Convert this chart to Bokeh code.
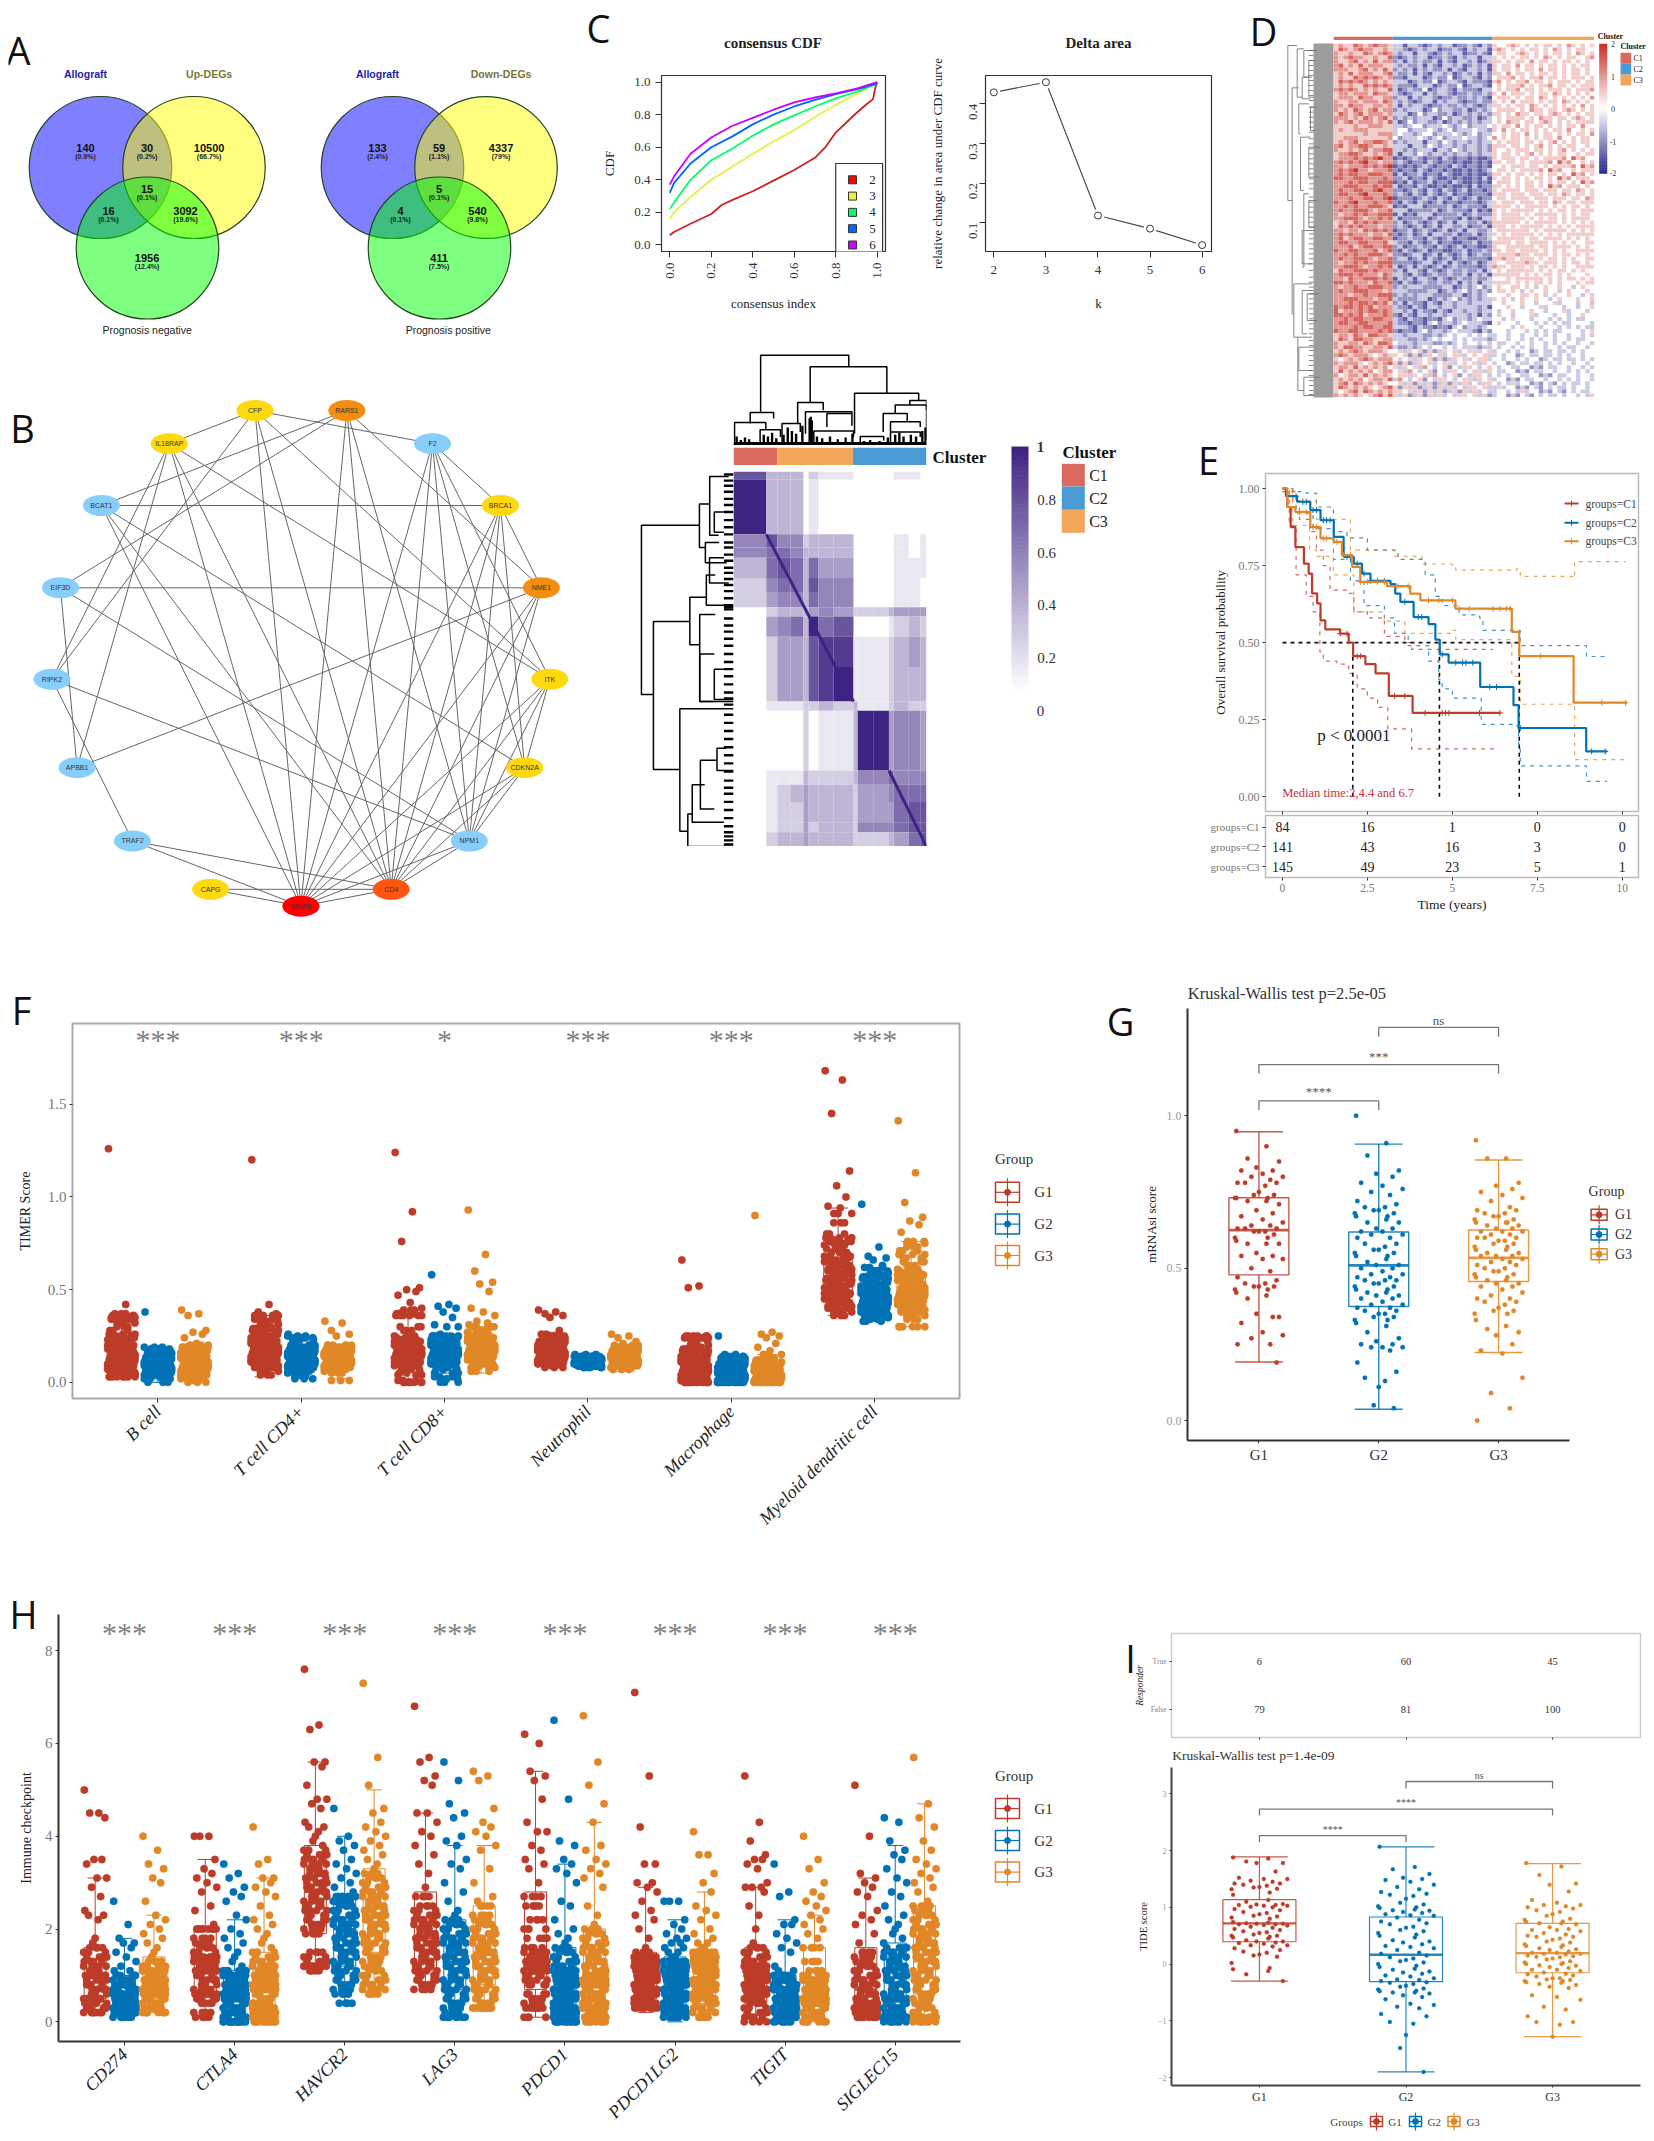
import math
from bokeh.plotting import figure
from bokeh.layouts import column
from bokeh.models import Range1d, FixedTicker
from bokeh.core.properties import value
from bokeh.embed import file_html
from bokeh.resources import INLINE

SERIF = "Liberation Serif"
SANS = "Liberation Sans"
RED, BLUE, ORANGE = "#BC3C29", "#0072B5", "#E18727"
GCOL = [RED, BLUE, ORANGE]
GROUPS = ["G1", "G2", "G3"]
CL1, CL2, CL3 = "#DB6A5E", "#4A9BD4", "#F2A65A"

# ---------- A: Venn
VENN_LEFT_TITLES = ["Allograft", "Up-DEGs", "Prognosis negative"]
VENN_LEFT_COUNTS = ["140", "30", "10500", "15", "16", "3092", "1956"]
VENN_LEFT_PCT = ["(0.9%)", "(0.2%)", "(66.7%)", "(0.1%)", "(0.1%)", "(19.6%)", "(12.4%)"]
VENN_RIGHT_TITLES = ["Allograft", "Down-DEGs", "Prognosis positive"]
VENN_RIGHT_COUNTS = ["133", "59", "4337", "5", "4", "540", "411"]
VENN_RIGHT_PCT = ["(2.4%)", "(1.1%)", "(79%)", "(0.1%)", "(0.1%)", "(9.8%)", "(7.5%)"]

# ---------- B: network
NODES = ["MMP9", "CD4", "NPM1", "CDKN2A", "ITK", "NME1", "BRCA1", "F2", "RARS1", "CFP", "IL18RAP", "BCAT1", "EIF3D", "RIPK2", "APBB1", "TRAF2", "CAPG"]
NODE_COL = ["#FF0000", "#FF5510", "#87CEFA", "#FFD910", "#FFD910", "#F58E10", "#FFD910", "#87CEFA", "#F58E10", "#FFD910", "#FFD910", "#87CEFA", "#87CEFA", "#87CEFA", "#87CEFA", "#87CEFA", "#FFD910"]
EDGES = [("CFP","IL18RAP"),("CFP","F2"),("CFP","ITK"),("CFP","MMP9"),("CFP","CD4"),("CFP","RIPK2"),
 ("RARS1","BCAT1"),("RARS1","EIF3D"),("RARS1","NME1"),("RARS1","MMP9"),("RARS1","CD4"),("RARS1","NPM1"),
 ("IL18RAP","RIPK2"),("IL18RAP","APBB1"),("IL18RAP","MMP9"),("IL18RAP","CD4"),("IL18RAP","ITK"),
 ("F2","BRCA1"),("F2","MMP9"),("F2","CD4"),("F2","NPM1"),("F2","CDKN2A"),("F2","ITK"),
 ("BCAT1","BRCA1"),("BCAT1","CDKN2A"),("BCAT1","MMP9"),("BCAT1","CD4"),
 ("BRCA1","NME1"),("BRCA1","MMP9"),("BRCA1","CD4"),("BRCA1","NPM1"),("BRCA1","CDKN2A"),
 ("EIF3D","NME1"),("EIF3D","APBB1"),("EIF3D","NPM1"),
 ("NME1","APBB1"),("NME1","MMP9"),("NME1","CD4"),("NME1","NPM1"),
 ("RIPK2","TRAF2"),("RIPK2","NPM1"),
 ("ITK","MMP9"),("ITK","CD4"),("ITK","NPM1"),("ITK","CDKN2A"),
 ("CDKN2A","MMP9"),("CDKN2A","CD4"),("CDKN2A","NPM1"),
 ("TRAF2","MMP9"),("TRAF2","CD4"),("NPM1","MMP9"),("NPM1","CD4"),
 ("CAPG","CD4"),("CAPG","MMP9"),("CD4","MMP9")]

# ---------- consensus matrix (sample index edges, darkness 0-9)
CM_COL_EDGES = [0,63,84,109,134,144,163,192,230,238,269,298,307,336,358,370]
CM_ROW_EDGES = [0,8,62,75,85,105,119,134,143,163,193,227,236,265,295,309,326,346,356,370]
CM_ROWS = ["733302110000110","933301000000000","575523330000101","566533330000101","367636440000111",
 "256637550000110","245536550000110","023334542223444","045639670001232","024437881112343",
 "024437891112333","011122323112322","000020113994554","000020113994554","011132223556555",
 "012343332445666","012243332444677","012242332555677","023343332223467"]
CM_DIAG_A = [(63,62),(230,227)]
CM_DIAG_B = [(298,295),(370,370)]
CLUSTER_SIZES = [84,141,145]
CM_TOP = [(52,221,1,.375,.873),(147,294,.873,.476,.58),(232,355,.58,.13,.5),(310,370,.45,.35,.06),(338,370,.5,.45,.39),
 (287,333,.356,.15,.262),(301,358,.262,.15,.206),(32,77,.365,.243,.3),(2,62,.255,0,.176),(51,90,.176,.02,.094),
 (123,172,.476,.243,.39),(138,227,.375,.13,.356),(179,227,.356,.206,.22),(93,128,.243,.02,.15),(154,230,.16,0,.094),
 (243,288,.1,0,.056),(301,358,.15,0,.094)]
CM_TOP_STUBS = [(6,.1),(14,.06),(22,.09),(30,.07),(58,.12),(66,.1),(74,.14),(82,.08),(96,.12),(104,.2),(112,.16),(120,.13),(132,.22),(146,.3),(148,.32),(150,.28),(160,.1),(170,.08),(185,.1),(200,.07),(215,.09),(228,.13),(250,.05),(262,.06),(280,.05),(296,.09),(310,.12),(318,.14),(326,.1),(340,.12),(350,.1),(362,.16),(368,.2)]
CM_LEFT = [(53,220,.959,.355,.834),(148,294,.834,.455,.559),(32,75,.355,.248,.293),(5,63,.248,.05,.155),(124,171,.455,.283,.352),
 (102,132,.283,.19,.07),(141,227,.352,.19,.207),(180,227,.352,.2,0),(234,355,.559,0,.476),(338,370,.476,.43,0),
 (285,333,.345,.172,.2),(309,346,.43,.3,.1),(273,295,.172,.08,0),(40,60,.2,.06,.1),(85,110,.25,.1,.05),(70,90,.293,.15,.07),(195,225,.2,.1,0)]
CM_LEFT_STUBS = [3,9,14,20,27,33,40,48,55,62,70,75,82,88,95,100,106,112,118,125,132,134,136,145,152,158,165,172,180,188,195,202,210,218,224,230,240,248,256,264,272,280,288,296,305,312,318,326,334,342,350,356,360,364,368]

# ---------- C: consensus CDF and delta area
CDF_LEVELS = ["2", "3", "4", "5", "6"]
CDF_COLORS = ["#FF0000", "#E8F03C", "#00FF66", "#0066FF", "#CC00FF"]
CDF2_X = [0,.02,.1,.2,.25,.3,.4,.5,.6,.7,.75,.8,.85,.9,.95,.98,.99,1]
CDF2_Y = [.06,.08,.13,.19,.245,.275,.33,.395,.46,.535,.6,.69,.75,.81,.865,.895,.96,1]
CDFN_X = [0,.02,.1,.2,.3,.4,.5,.6,.7,.8,.9,1]
CDF3_Y = [.16,.2,.295,.4,.48,.56,.635,.705,.785,.86,.925,1]
CDF4_Y = [.22,.26,.4,.52,.59,.67,.74,.795,.85,.9,.94,.99]
CDF5_Y = [.32,.38,.5,.6,.665,.74,.8,.85,.89,.925,.955,.99]
CDF6_Y = [.37,.42,.56,.66,.73,.78,.83,.875,.905,.93,.96,1]
DELTA_K = [2,3,4,5,6]
DELTA_Y = [.429,.4547,.118,.085,.0435]

# ---------- D: expression heatmap (0=-2, 4=0, 8=+2)
D_ROWS = [
"565576567665"+"33133212323312232132"+"5445654545455454654545",
"655675657566"+"23132322313213323123"+"5545455464554545545454",
"565576767656"+"22133312322412332132"+"4555645455645545455545",
"566566657665"+"32123313233212232232"+"5464555454554654545454",
"656576567566"+"23233312423322312323"+"4555545465545545654545",
"555565566655"+"33234423334323423334"+"5455464545545454554644",
"565675667765"+"23233313324323323233"+"4545554554545645454554",
"566676767866"+"12123212213212212112"+"5455545545455556475644",
"676776677766"+"13122312213211212112"+"5545455454545545475645",
"676677667866"+"22123213213212312212"+"5455554555455545546545",
"667676677765"+"12133312222312322213"+"5555454555554545455454",
"566576767666"+"23123212312313322312"+"5555554545555545454545",
"675677667766"+"12232213212312211223"+"4555555455455554545454",
"667676677765"+"22123312313212312322"+"4555565545554545545454",
"576677767666"+"23133213212322322313"+"4545555554545455454544",
"656676677766"+"23233322223312323423"+"4544554543454454434544",
"666767767675"+"23132213213323323333"+"4454445443444534443443",
"667677667766"+"32132212213423323433"+"4434544434443434343344",
"566576577665"+"33233322323434434343"+"3443443443434344344343",
"565676566654"+"45354525235453455345"+"3443434423433433434344",
"566575656564"+"53545364345243554345"+"4344334423243344344343",
"567576565654"+"45352535235253534355"+"4343534423243243433434"]
D_ROW_GRAIN = [0, 3, -2, 5]
D_TREE = [(142,135,600,170,155),(155,262,940,175,160),(170,145,290,190,185),(160,850,1010,215,172),(185,230,295,215,210),
 (190,150,230,230,205),(175,310,400,205,180),(180,410,570,210,190),(190,580,800,205,185),(185,690,790,225,215),
 (205,440,530,240,235),(172,1010,1170,215,190),(185,870,1000,220,200),(190,1130,1185,240,220),(205,180,290,225,220),
 (210,320,390,230,225),(205,600,680,230,225),(200,880,960,235,230),(175,1040,1110,220,215)]
D_TWIGS = [150,165,180,195,210,225,240,255,270,285,300,320,335,350,365,380,395,415,430,445,460,475,490,505,520,535,550,565,590,605,620,635,650,665,680,700,715,730,745,760,775,790,810,830,845,860,880,895,910,925,940,955,970,985,1000,1020,1035,1050,1065,1080,1095,1110,1125,1140,1155,1170,1182]

# ---------- E: survival
KM1_T = [0,.14,.24,.38,.63,.77,.87,1.02,1.12,1.26,1.7,1.95,2.08,2.44,2.74,3.13,3.83,6.41]
KM1_S = [1,.94,.875,.81,.756,.724,.66,.627,.572,.543,.529,.5,.456,.43,.40,.327,.272,.272]
KM2_T = [0,.1,.43,.82,1.12,1.51,1.8,2.1,2.34,2.59,3.18,3.32,3.47,3.86,4.3,4.5,4.63,4.89,5.82,6.8,6.95,8.94,9.55]
KM2_S = [1,.975,.957,.93,.897,.843,.778,.756,.724,.70,.69,.659,.632,.583,.56,.51,.462,.435,.356,.297,.223,.147,.147]
KM3_T = [0,.14,.38,.82,1.12,1.51,1.75,2.05,2.29,3.08,3.76,4.06,5.09,6.75,6.97,8.57,10.14]
KM3_S = [1,.94,.924,.875,.838,.827,.784,.746,.697,.683,.659,.637,.61,.535,.456,.305,.305]
KM1_UP = [(0,1),(.3,.96),(.5,.9),(.8,.86),(1,.8),(1.2,.75),(1.4,.67),(1.9,.66),(2.1,.6),(2.5,.58),(3,.52),(3.6,.5),(3.8,.478),(6.2,.478)]
KM1_LO = [(0,1),(.2,.88),(.4,.72),(.7,.65),(.9,.6),(1.1,.47),(1.2,.44),(1.6,.43),(1.95,.4),(2.2,.35),(2.5,.32),(2.8,.29),(3.1,.22),(3.8,.155),(6.3,.155)]
KM2_UP = [(0,1),(.3,.99),(.7,.985),(1,.94),(1.5,.86),(1.9,.84),(2.5,.8),(3.1,.8),(3.4,.77),(4.2,.72),(4.5,.65),(4.7,.62),(5.2,.59),(5.8,.58),(5.9,.54),(6.8,.54),(7,.49),(8.9,.49),(8.95,.455),(9.55,.455)]
KM2_LO = [(0,.99),(.4,.92),(.9,.87),(1.5,.77),(2,.7),(2.4,.62),(3,.58),(3.3,.53),(3.7,.49),(4.3,.44),(4.6,.38),(4.7,.35),(5,.32),(5.8,.32),(5.85,.235),(6.8,.23),(6.95,.17),(7,.1),(8.9,.1),(8.95,.05),(9.55,.05)]
KM3_UP = [(0,1),(.3,.96),(1,.9),(2,.8),(3.3,.78),(4.1,.755),(5.0,.75),(5.1,.735),(6.9,.74),(7,.715),(8.55,.71),(8.6,.763),(10.1,.763)]
KM3_LO = [(0,.99),(.3,.88),(.8,.8),(1,.78),(1.5,.72),(2.1,.6),(3,.57),(3.6,.53),(5,.54),(5.1,.51),(6.7,.5),(6.75,.39),(7,.3),(8.55,.3),(8.6,.12),(10.1,.12)]
KM1_CENS = [1.7,1.9,2.2,2.3,3.3,3.6,4.2,4.7,4.8,4.9,5.8,6.4]
KM2_CENS = [.4,.6,.7,.9,1,1.2,1.3,1.4,1.9,2,2.2,2.4,2.6,2.8,3,3.6,4,4.1,4.7,5.1,5.3,5.4,5.6,6.1,6.3,7,9.1,9.5]
KM3_CENS = [.5,.7,.9,1,1.2,1.3,1.6,1.8,2,2.3,2.5,2.8,3,3.4,3.7,4.3,4.6,5,5.2,5.5,6.2,6.4,6.6,6.7,7.6,9.4,10.1]
RISK_TICKS = [0,2.5,5,7.5,10]
RISK_C1 = [84,16,1,0,0]
RISK_C2 = [141,43,16,3,0]
RISK_C3 = [145,49,23,5,1]

# ---------- F: TIMER (hundredths)
F_CATS = ["B cell","T cell CD4+","T cell CD8+","Neutrophil","Macrophage","Myeloid dendritic cell"]
F_STARS = ["***","***","*","***","***","***"]
F_B_G1 = [126,42,37,36,36,35,34,33,32,30,28,26,25,24,24,23,22,21,20,20,19,18,18,17,16,15,15,14,14,13,13,12,12,11,11,10,10,9,9,8,8,7,7,6,6,5,5,4,4,3,3,3]
F_B_G2 = [38,19,18,18,17,16,16,15,15,14,14,13,13,12,12,11,11,10,10,10,9,9,9,8,8,8,7,7,7,6,6,6,5,5,5,4,4,3,2,0]
F_B_G3 = [39,37,36,28,27,26,24,21,20,20,19,19,18,17,17,16,16,15,14,14,13,13,12,12,11,11,10,10,9,9,8,8,7,7,6,6,5,5,4,4,3,2,1,0]
F_4_G1 = [120,42,38,37,36,36,34,33,31,30,29,28,27,26,25,24,24,23,22,22,21,21,20,20,19,19,18,18,17,17,16,16,15,15,14,14,13,13,12,12,11,11,10,10,9,9,8,7,6,4]
F_4_G2 = [26,25,24,24,23,20,20,19,19,18,18,17,17,16,16,16,15,15,15,14,14,14,13,13,13,12,12,12,11,11,11,10,10,10,9,9,9,8,8,7,6,5,4,2]
F_4_G3 = [33,32,28,26,25,20,20,19,19,18,18,17,17,16,16,16,15,15,15,14,14,14,13,13,13,12,12,12,11,11,11,10,10,10,9,9,9,8,8,8,7,6,5,1]
F_8_G1 = [124,92,76,51,50,49,47,43,40,39,37,36,36,30,28,25,24,23,22,21,20,20,19,19,18,18,17,17,16,16,15,15,14,14,13,13,12,12,11,11,10,9,8,7,5,4,1,0,0,0]
F_8_G2 = [58,42,41,40,38,35,31,30,30,26,25,25,24,24,23,23,22,22,21,21,20,20,19,19,18,18,17,17,16,16,15,15,14,14,13,13,12,12,11,11,10,10,9,8,7,5,3,2,0]
F_8_G3 = [93,69,60,54,53,49,40,38,36,33,32,31,30,30,28,27,26,25,24,23,23,22,22,21,21,20,20,19,19,18,18,17,17,16,16,15,15,14,14,13,13,12,11,10,9,8,6]
F_N_G1 = [39,38,37,36,35,28,26,25,24,23,22,22,21,21,20,20,19,19,18,18,17,17,17,16,16,16,15,15,15,14,14,14,13,13,13,12,12,12,11,11,10,10,9,8]
F_N_G2 = [15,14,14,14,13,13,13,13,12,12,12,12,12,11,11,11,11,11,10,10,10,10,10,9,9,9,9,8,8]
F_N_G3 = [26,25,24,22,21,20,19,19,18,18,17,17,16,16,16,15,15,15,14,14,14,13,13,13,12,12,12,11,11,11,10,10,10,9,9,8,7]
F_M_G1 = [66,52,51,25,25,24,24,22,20,19,18,17,16,15,14,14,13,13,12,12,11,11,10,10,9,9,8,8,7,7,6,6,5,5,4,4,3,3,2,2,1,1,1,0,0,0,0,0]
F_M_G2 = [25,15,15,14,14,13,13,12,12,11,10,10,9,9,8,8,7,7,6,6,5,5,5,4,4,4,3,3,3,2,2,2,1,1,1,1,0,0,0,0,0,0]
F_M_G3 = [90,27,26,25,24,21,19,17,15,13,12,11,10,10,9,9,8,8,7,7,6,6,5,5,5,4,4,4,3,3,3,2,2,2,1,1,1,1,0,0,0,0,0,0,0]
F_D_G1 = [168,163,145,114,106,100,95,94,91,86,80,78,77,76,75,74,72,70,68,67,66,65,64,63,62,61,60,59,58,57,56,55,54,53,52,51,50,49,48,47,46,45,44,43,42,41,40,39,38,36]
F_D_G2 = [96,73,68,67,66,63,62,60,59,58,57,56,55,54,53,52,51,50,50,49,49,48,48,47,47,46,46,45,45,44,44,43,43,42,42,41,41,40,40,39,39,38,38,37,37,36,36,35,35,34,33]
F_D_G3 = [141,113,97,89,87,85,81,76,75,73,71,69,67,65,63,61,60,59,58,57,56,55,54,53,52,51,50,49,49,48,48,47,47,46,46,45,45,44,44,43,43,42,42,41,40,39,38,37,36,34,30,30]
F_BOX_G1 = [(.07,.13,.2,.02,.37),(.12,.18,.24,.03,.36),(.09,.16,.22,0,.39),(.13,.16,.19,.08,.27),(.03,.08,.13,0,.25),(.46,.55,.67,.36,.94)]
F_BOX_G2 = [(.05,.09,.13,0,.19),(.09,.13,.16,.02,.25),(.1,.16,.21,.05,.25),(.09,.11,.12,.07,.15),(.01,.05,.08,0,.14),(.39,.46,.52,.33,.62)]
F_BOX_G3 = [(.05,.1,.15,0,.2),(.09,.13,.16,.02,.2),(.12,.17,.23,.05,.3),(.1,.13,.15,.06,.2),(.01,.04,.08,0,.15),(.41,.49,.57,.3,.76)]

# ---------- H: checkpoints (tenths)
H_CATS = ["CD274","CTLA4","HAVCR2","LAG3","PDCD1","PDCD1LG2","TIGIT","SIGLEC15"]
H_1_G1 = [50,45,45,44,35,35,34,31,31,29,27,24,23,23,22,18,17,16,15,14,13,12,11,10,10,9,8,7,6,5,5,4,3,3,2,2]
H_1_G2 = [26,21,18,17,17,16,15,14,13,12,11,11,10,10,9,9,8,8,7,7,6,6,5,5,5,4,4,4,3,3,3,2,2,2,1,1]
H_1_G3 = [40,37,34,33,31,30,26,23,22,21,20,19,18,17,16,15,14,13,12,12,11,11,10,10,9,9,8,8,7,7,6,6,5,5,4,4,3,3,2,2]
H_2_G1 = [40,40,40,35,33,32,31,30,29,28,25,24,21,20,20,18,17,16,15,14,14,13,12,12,11,11,10,9,8,7,6,6,5,5,4,2,1]
H_2_G2 = [34,32,31,29,28,27,26,23,22,20,19,18,17,16,15,14,13,12,11,11,10,10,9,9,8,8,7,7,6,6,5,5,4,4,3,3,2,2,1,1,0,0,0,0]
H_2_G3 = [42,35,34,31,31,30,29,28,27,25,23,22,21,20,19,18,17,16,15,14,13,12,11,11,10,10,9,9,8,8,7,7,6,6,5,4,4,3,3,2,2,1,1,0,0,0]
H_3_G1 = [76,64,63,56,56,55,51,48,48,47,46,43,42,42,41,40,39,38,37,36,35,34,33,32,31,30,29,28,27,26,25,24,23,22,21,20,19,15,14,13,12,12,11]
H_3_G2 = [46,40,39,38,37,35,34,33,32,31,30,29,28,27,27,26,26,25,24,23,22,21,20,19,18,17,16,15,14,13,12,11,10,9,8,7,6,4]
H_3_G3 = [73,57,51,46,45,43,42,41,40,39,38,37,36,35,34,33,32,31,30,29,28,27,26,25,24,23,22,21,20,19,18,17,16,15,14,13,12,11,10,9,8,7,6]
H_4_G1 = [68,57,56,53,52,51,45,45,43,41,40,38,36,34,32,29,27,25,24,23,22,21,20,19,18,17,16,15,14,13,12,11,10,9,8,7]
H_4_G2 = [56,52,47,45,44,40,39,38,35,34,33,30,28,26,24,23,22,21,20,19,18,17,16,15,14,13,12,11,10,9,8,7,6,5,4,3,2,1,1]
H_4_G3 = [54,53,52,46,43,42,41,40,38,37,33,30,27,26,25,23,22,21,20,19,18,17,16,15,14,13,12,11,10,9,8,7,6,5,4,3,3,3]
H_5_G1 = [62,60,54,53,52,48,43,41,41,38,37,35,34,33,30,27,25,22,20,18,16,15,14,14,13,13,12,12,11,11,10,9,8,6,5,4,3,3,1]
H_5_G2 = [65,48,39,38,35,34,33,32,30,26,25,22,20,19,18,17,16,15,14,13,12,11,11,10,10,9,9,8,8,7,7,6,6,5,5,4,4,3,3,2,2,1,1,0,0,0]
H_5_G3 = [66,56,51,47,43,38,37,35,34,33,32,31,29,25,23,21,20,19,18,17,16,15,14,13,12,11,10,10,9,9,8,8,7,7,6,6,5,5,4,4,3,3,2,2,1,1,0,0]
H_6_G1 = [71,53,42,34,34,30,30,29,28,26,24,23,22,20,18,16,15,14,14,13,13,12,12,11,11,10,10,9,9,8,8,7,7,6,6,5,5,4,4,3,3]
H_6_G2 = [26,26,26,22,21,20,19,18,18,17,17,16,16,15,15,14,14,13,13,12,12,11,11,10,10,9,9,8,8,7,7,6,6,5,5,4,4,3,3,2,2,1,1]
H_6_G3 = [41,36,36,32,30,28,25,24,23,22,20,19,18,17,17,16,16,15,15,14,14,13,13,12,12,11,11,10,10,9,9,8,8,7,7,6,6,5,5,4,3,2,1]
H_7_G1 = [53,43,39,36,35,35,34,33,30,29,29,29,28,25,23,20,17,16,15,14,13,12,12,11,11,10,10,9,9,8,8,7,7,6,6,5,5,4,3,2,1,0]
H_7_G2 = [34,28,27,22,21,21,19,18,17,16,15,12,11,11,10,10,9,9,8,8,7,7,6,6,5,5,4,4,3,3,2,2,1,1,1,0,0]
H_7_G3 = [40,35,33,30,28,27,26,25,24,23,22,21,20,19,18,16,13,11,10,10,9,9,8,8,7,7,6,6,5,5,4,4,3,3,2,2,1,1,0,0]
H_8_G1 = [51,40,32,31,30,29,28,27,24,23,22,21,19,17,15,14,13,12,11,10,9,8,7,6,5,4,4,3,3,3,2,2,2,1,1]
H_8_G2 = [44,43,39,37,36,35,33,31,30,28,27,25,23,22,21,20,19,18,17,16,15,14,13,12,11,10,9,8,7,6,5,5,4,4,3,3,2,2,1,1,1,0,0]
H_8_G3 = [57,47,44,42,39,37,35,34,33,32,31,30,29,28,26,25,24,23,22,21,20,19,18,17,16,15,14,13,12,11,10,9,8,7,6,5,4,3,2,1,1,0,0]
H_BOX_G1 = [(.5,1,1.6,.2,3.1),(.6,1.3,2,.1,3.5),(1.9,2.8,3.8,1.1,5.6),(1.1,1.8,2.8,.7,4.5),(.7,1.2,2.8,.1,5.4),(.5,.9,1.5,.2,2.9),(.4,.9,1.6,0,2.9),(.3,.7,1.6,.1,3.1)]
H_BOX_G2 = [(.3,.6,1,.1,1.8),(.2,.6,1.1,0,2.2),(1.2,2,2.7,.4,4),(.7,1.3,2.2,.1,3.8),(.3,.8,1.6,0,3.4),(.3,.8,1.4,0,2.2),(.2,.5,1,0,2.2),(.5,1.1,1.7,0,3.8)]
H_BOX_G3 = [(.5,.9,1.4,.2,2.3),(.3,.8,1.5,0,3.1),(1.5,2.3,3.3,.6,5),(.8,1.5,2.5,.3,3.8),(.4,1,2,0,4.3),(.4,.9,1.5,.1,2.8),(.4,.9,1.6,0,2.3),(.6,1.3,2.5,0,4.7)]

# ---------- G: mRNAsi (hundredths)
G_G1 = [95,90,86,85,83,82,82,81,80,80,79,78,78,78,77,75,74,74,73,73,73,72,72,71,69,68,67,66,65,64,64,63,63,63,62,62,62,61,60,60,59,58,58,58,55,54,54,53,53,50,49,47,46,45,45,44,44,44,43,43,42,41,40,34,35,34,32,29,28,27,25,25,19]
G_G2 = [100,91,87,82,81,80,78,77,76,75,74,72,71,70,70,69,69,68,68,67,67,66,65,65,63,63,62,62,61,61,60,60,58,58,57,56,56,55,55,54,54,53,52,51,51,50,50,49,48,48,47,47,46,46,46,45,45,44,44,43,43,42,42,41,41,40,40,39,38,38,37,37,36,36,35,35,34,34,33,33,32,31,29,27,26,25,25,24,24,24,23,19,16,14,13,11,5,4]
G_G3 = [92,86,86,78,77,76,75,74,73,72,70,69,69,68,68,67,67,66,66,65,65,65,64,64,63,63,62,62,62,61,61,60,60,60,59,59,58,58,57,57,56,56,55,55,54,54,54,53,53,52,52,51,51,50,50,49,49,48,48,47,47,46,46,45,45,44,44,43,42,41,40,40,39,39,38,37,36,36,35,35,33,31,30,29,28,25,23,22,14,9,4,0]
G_BOX = [(.478,.625,.731,.192,.9475),(.374,.509,.6186,.037,.907),(.456,.534,.625,.223,.855)]
G_BRACKETS = [(2,3,1.29,1.259,"ns",1.314),(1,3,1.168,1.139,"***",1.195),(1,2,1.049,1.019,"****",1.078)]

# ---------- I: TIDE (hundredths)
I_G1 = [188,186,181,178,178,163,152,150,150,147,145,142,142,140,138,136,135,133,132,126,122,113,110,106,105,104,104,103,103,101,100,97,95,92,90,88,85,84,82,80,74,73,72,71,71,70,70,69,68,66,64,62,60,58,56,55,52,50,50,48,47,45,42,40,40,38,37,36,33,33,31,28,25,22,20,17,15,13,2,-7,-9,-12,-18,-30]
I_G2 = [207,171,167,159,152,150,148,145,140,136,132,127,124,122,120,115,108,105,102,100,99,96,95,94,92,90,88,86,85,82,78,75,72,70,66,64,60,58,55,52,50,47,42,40,38,35,32,30,28,25,20,18,15,12,10,7,5,3,0,-3,-5,-8,-10,-13,-15,-17,-20,-22,-25,-27,-28,-30,-32,-33,-35,-38,-40,-43,-45,-47,-48,-50,-50,-52,-55,-58,-62,-70,-72,-75,-78,-88,-92,-102,-105,-125,-148,-190]
I_G3 = [178,172,157,142,140,128,113,108,104,104,102,100,98,95,92,88,85,80,78,75,74,72,72,70,65,62,60,60,58,55,52,50,48,48,45,43,40,38,35,33,32,30,28,26,25,22,20,20,18,18,17,15,14,13,12,10,8,5,3,2,0,0,-2,-3,-5,-7,-10,-10,-12,-15,-17,-18,-20,-22,-25,-25,-27,-28,-30,-30,-32,-33,-35,-37,-40,-42,-55,-58,-63,-75,-80,-92,-102,-102,-107,-128]
I_BOX = [(.394,.718,1.135,-.3,1.888),(-.31,.165,.83,-1.9,2.065),(-.153,.194,.718,-1.28,1.77)]
I_BRACKETS = [(2,3,3.218,3.094,"ns",3.33),(1,3,2.73,2.62,"****",2.84),(1,2,2.265,2.15,"****",2.37)]
I_TRUE = [6,60,45]
I_FALSE = [79,81,100]

JIT = [-.9,.3,-.45,.8,-.1,.55,-.7,.15,.95,-.3,.45,-.85,.7,-.55,.25,0,-.2,.6,-.95,.35]

# ---------- helpers
# Every child of the column gets the same left and right border, since Bokeh aligns those across a column.
PAD_L, PAD_R = 70, 8
ROOT_DX, ROOT_DY = 80, 8

def abspos(l, t):
    return {"position": "absolute", "left": f"{int(round(l))+ROOT_DX}px", "top": f"{int(round(t))+ROOT_DY}px"}

def panel(l, t, r, b, xr, yr, pt=8, pb=8):
    p = figure(width=int(round(r-l))+PAD_L+PAD_R, height=int(round(b-t))+pt+pb, x_range=Range1d(*xr), y_range=Range1d(*yr),
               toolbar_location=None, output_backend="svg", min_border_left=PAD_L, min_border_right=PAD_R, min_border_top=pt,
               min_border_bottom=pb, background_fill_alpha=0, border_fill_alpha=0, styles=abspos(l-PAD_L, t-pt))
    p.grid.visible = False
    return p

def bare(l, t, r, b, xr, yr):
    p = figure(width=int(round(r-l))+PAD_L+PAD_R, height=int(round(b-t)), x_range=Range1d(*xr), y_range=Range1d(*yr),
               toolbar_location=None, output_backend="svg", min_border_left=PAD_L, min_border_right=PAD_R, min_border_top=0,
               min_border_bottom=0, x_axis_location=None, y_axis_location=None,
               background_fill_alpha=0, border_fill_alpha=0, styles=abspos(l-PAD_L, t))
    p.grid.visible = False
    p.outline_line_color = None
    return p

page = bare(8, 0, 1646, 2141, (8, 1646), (2141, 0))

def T(p, x, y, s, size, font=SERIF, color="#222222", align="center", style="normal", angle=0):
    p.text(x=[x], y=[y], text=[s], text_font=value(font), text_font_size=f"{size}px", text_color=color,
           text_align=align, text_baseline="middle", text_font_style=style, angle=angle)

def axis(ax, ticks, labels=None, size=13, color="#333333", orient=None, style="normal", line=None, lw=1, tick_out=4, standoff=3):
    ax.ticker = FixedTicker(ticks=ticks)
    if labels is not None:
        ax.major_label_overrides = {t: s for t, s in zip(ticks, labels)}
    ax.minor_tick_line_color = None
    ax.major_tick_in = 0
    ax.major_tick_out = tick_out
    ax.major_tick_line_color = "#333333"
    ax.major_label_text_font = SERIF
    ax.major_label_text_font_size = f"{size}px"
    ax.major_label_text_color = color
    ax.major_label_text_font_style = style
    ax.major_label_standoff = standoff
    ax.axis_line_color = line
    ax.axis_line_width = lw
    if orient is not None:
        ax.major_label_orientation = orient

def ax_title(ax, s, size, standoff, style="normal"):
    ax.axis_label = s
    ax.axis_label_text_font = SERIF
    ax.axis_label_text_font_size = f"{size}px"
    ax.axis_label_text_font_style = style
    ax.axis_label_text_color = "#222222"
    ax.axis_label_standoff = standoff

def merges_h(p, merges, color="#000000", width=1.5):
    xs, ys = [], []
    for x1, x2, h, h1, h2 in merges:
        xs.append([x1, x1, x2, x2]); ys.append([h1, h, h, h2])
    p.multi_line(xs, ys, line_color=color, line_width=width)

def lerp(c1, c2, t):
    return "#%02x%02x%02x" % tuple(int(round(a + (b - a) * t)) for a, b in zip(c1, c2))

def box_plot(p, centers, boxes, half, cap, lw, alpha=1):
    for c, bx, col in zip(centers, boxes, GCOL):
        q1, med, q3, lo, hi = bx
        p.quad(left=[c-half], right=[c+half], bottom=[q1], top=[q3], fill_color=None, line_color=col, line_width=lw, line_alpha=alpha)
        p.segment([c-half], [med], [c+half], [med], line_color=col, line_width=lw*2, line_alpha=alpha)
        p.segment([c, c], [q3, q1], [c, c], [hi, lo], line_color=col, line_width=lw, line_alpha=alpha)
        p.segment([c-cap, c-cap], [hi, lo], [c+cap, c+cap], [hi, lo], line_color=col, line_width=lw, line_alpha=alpha)

def strip(p, center, vals, scale, width, col, size, dense_below=None, layers=1):
    xs = [center + JIT[i % len(JIT)] * width for i in range(len(vals))]
    ys = [v * scale for v in vals]
    if dense_below is not None:
        for k in range(layers):
            for i, v in enumerate(vals):
                if v * scale <= dense_below:
                    xs.append(center - JIT[(i + 7 + 6 * k) % len(JIT)] * width)
                    ys.append(v * scale)
    p.scatter(xs, ys, size=size, fill_color=col, line_color=col, line_width=0.3)

def group_key(x, y, col, w=24, h=20):
    page.quad(left=[x-w/2], right=[x+w/2], top=[y-h/2], bottom=[y+h/2], fill_color=None, line_color=col, line_width=1.5)
    page.segment([x], [y-h/2-4], [x], [y+h/2+4], line_color=col, line_width=1.2)
    page.segment([x-w/2], [y], [x+w/2], [y], line_color=col, line_width=1.2)
    page.scatter([x], [y], size=6, fill_color=col, line_color=col)

def group_legend(tx, ty, kx, lx, ys, size=15, w=24, h=20):
    T(page, tx, ty, "Group", size, color="#333333")
    for y, name, col in zip(ys, GROUPS, GCOL):
        group_key(kx, y, col, w, h)
        T(page, lx, y, name, size, color="#333333")

# ---------- panel letters
for x, y, s in [(18,47,"A"),(22,425,"B"),(598,25,"C"),(1263,28,"D"),(1208,457,"E"),(21,1007,"F"),(1120,1018,"G"),(23,1611,"H"),(1130,1655,"I")]:
    T(page, x, y+2, s, 38, font="Open Sans", color="#111111")

# ---------- A
def venn(dx, titles, counts, pcts, tx1, tx2, bottom_x):
    cx = [dx, dx + 93.5, dx + 47]
    cy = [167, 167, 247.5]
    for a, b, c in zip(cx, cy, ["#0000FF", "#FFFF00", "#00FF00"]):
        page.ellipse([a], [b], width=142.5, height=142, fill_color=c, fill_alpha=.5, line_color="#224422", line_width=1.2)
    cols = ["#2222AA", "#777733"]
    T(page, tx1, 73, titles[0], 10.5, font=SANS, color=cols[0], style="bold")
    T(page, tx2, 73, titles[1], 10.5, font=SANS, color=cols[1], style="bold")
    T(page, bottom_x, 329, titles[2], 10.5, font=SANS, color="#222222")
    px = [dx-15, dx+46.6, dx+108.6, dx+46.6, dx+8, dx+85, dx+46.6]
    py = [147, 147, 147, 188, 210, 210, 257]
    for x, y, c, q in zip(px, py, counts, pcts):
        T(page, x, y, c, 11, font=SANS, style="bold", color="#111111")
        T(page, x, y+8.5, q, 7, font=SANS, style="bold", color="#222222")
venn(100, VENN_LEFT_TITLES, VENN_LEFT_COUNTS, VENN_LEFT_PCT, 85, 208.6, 146.6)
venn(392, VENN_RIGHT_TITLES, VENN_RIGHT_COUNTS, VENN_RIGHT_PCT, 377, 500.6, 447.8)

# ---------- B network
NET_CX, NET_CY, NET_R = 300.4, 655.7, 250
pos = {}
for i, n in enumerate(NODES):
    th = 2 * math.pi * i / len(NODES)
    pos[n] = (NET_CX + NET_R * math.sin(th), NET_CY + NET_R * math.cos(th))
page.multi_line([[pos[a][0], pos[b][0]] for a, b in EDGES], [[pos[a][1], pos[b][1]] for a, b in EDGES], line_color="#666666", line_width=1)
page.ellipse([pos[n][0] for n in NODES], [pos[n][1] for n in NODES], width=37, height=21, fill_color=NODE_COL, line_color=None)
page.text([pos[n][0] for n in NODES], [pos[n][1] for n in NODES], text=NODES, text_font=value(SANS), text_font_size="7px",
          text_color="#333333", text_align="center", text_baseline="middle")

# ---------- consensus heat map
cm = bare(733, 471, 926, 846, (0, 370), (370, 0))
for j, row in enumerate(CM_ROWS):
    for i, ch in enumerate(row):
        d = int(ch)
        if d:
            cm.quad(left=[CM_COL_EDGES[i]], right=[CM_COL_EDGES[i+1]], top=[CM_ROW_EDGES[j]], bottom=[CM_ROW_EDGES[j+1]],
                    fill_color=lerp((255,255,255), (62,36,130), d/9), line_color=None)
for a, b in (CM_DIAG_A, CM_DIAG_B):
    cm.line([a[0], b[0]], [a[1], b[1]], line_color="#3E2482", line_width=3)
bar = bare(733, 447, 926, 465, (0, 370), (0, 1))
c1, c2, c3 = CLUSTER_SIZES
bar.quad(left=[0, c1, c1+c3], right=[c1, c1+c3, c1+c3+c2], bottom=[0]*3, top=[1]*3, fill_color=[CL1, CL3, CL2], line_color=None)
T(page, 959, 457, "Cluster", 17, style="bold", color="#111111")
dt = bare(733, 353, 926, 445, (0, 370), (0, 1.02))
merges_h(dt, CM_TOP)
dt.quad(left=[0], right=[370], bottom=[0], top=[.04], fill_color="#000000", line_color=None)
dt.segment([s[0] for s in CM_TOP_STUBS], [0]*len(CM_TOP_STUBS), [s[0] for s in CM_TOP_STUBS], [s[1] for s in CM_TOP_STUBS], line_color="#000000", line_width=2.4)
dl = bare(637, 471, 733, 846, (1, 0), (370, 0))
xs, ys = [], []
for y1, y2, d, d1, d2 in CM_LEFT:
    xs.append([d1, d, d, d2]); ys.append([y1, y1, y2, y2])
dl.multi_line(xs, ys, line_color="#000000", line_width=1.5)
dl.segment([.1]*len(CM_LEFT_STUBS), CM_LEFT_STUBS, [0]*len(CM_LEFT_STUBS), CM_LEFT_STUBS, line_color="#000000", line_width=2.4)
for k in range(0, 60):
    y0 = 693 - (693-446) * k / 60
    y1 = 693 - (693-446) * (k+1) / 60
    page.quad(left=[1011], right=[1028], top=[y1], bottom=[y0+.5], fill_color=lerp((255,255,255), (62,36,130), k/59), line_color=None)
for y, s, x in zip([446,499,552,604,657,710], ["1","0.8","0.6","0.4","0.2","0"], [1040,1046,1046,1046,1046,1040]):
    T(page, x, y, s, 15, color="#333333", style="bold" if s == "1" else "normal")
T(page, 1089, 452, "Cluster", 17, style="bold", color="#111111")
for y0, y1, col, s in [(463.3,486,CL1,"C1"),(486,509.3,CL2,"C2"),(509.3,532.3,CL3,"C3")]:
    page.quad(left=[1061.3], right=[1084.3], top=[y0], bottom=[y1], fill_color=col, line_color=None)
    T(page, 1098, (y0+y1)/2, s, 16)

# ---------- C
cdf = panel(661, 75, 885, 250.7, (-.04, 1.04), (-.04, 1.04), pb=70, pt=40)
cdf.outline_line_color = "#333333"; cdf.outline_line_width = 1.2
axis(cdf.xaxis, [0,.2,.4,.6,.8,1], ["0.0","0.2","0.4","0.6","0.8","1.0"], size=13, orient=math.pi/2, tick_out=6, standoff=5)
axis(cdf.yaxis, [0,.2,.4,.6,.8,1], ["0.0","0.2","0.4","0.6","0.8","1.0"], size=13, orient="horizontal", tick_out=6, standoff=5)
ax_title(cdf.xaxis, "consensus index", 13, 14)
ax_title(cdf.yaxis, "CDF", 13, 14)
for xv, yv, col in [(CDF2_X,CDF2_Y,"#D02020"),(CDFN_X,CDF3_Y,CDF_COLORS[1]),(CDFN_X,CDF4_Y,CDF_COLORS[2]),(CDFN_X,CDF5_Y,CDF_COLORS[3]),(CDFN_X,CDF6_Y,CDF_COLORS[4])]:
    cdf.line(xv, yv, line_color=col, line_width=1.8)
cdf.quad(left=[.8], right=[1.026], top=[.5], bottom=[-.06], fill_color="white", line_color="#333333", line_width=1.2)
for i, (lab, col) in enumerate(zip(CDF_LEVELS, CDF_COLORS)):
    cdf.scatter([.881], [.4-.1*i], marker="square", size=8, fill_color=col, line_color="#333333")
    T(cdf, .977, .4-.1*i, lab, 13)
T(page, 772.5, 42, "consensus CDF", 15, style="bold")

da = panel(985.4, 75, 1211, 250.7, (1.84, 6.18), (.0273, .4716), pb=70, pt=40)
da.outline_line_color = "#333333"; da.outline_line_width = 1.2
axis(da.xaxis, DELTA_K, size=13, tick_out=6, standoff=8)
axis(da.yaxis, [.1,.2,.3,.4], ["0.1","0.2","0.3","0.4"], size=13, orient=math.pi/2, tick_out=6, standoff=6)
ax_title(da.xaxis, "k", 13, 19)
ax_title(da.yaxis, "relative change in area under CDF curve", 13, 18)
da.line(DELTA_K, DELTA_Y, line_color="#444444", line_width=1.1)
da.scatter(DELTA_K, DELTA_Y, size=13, fill_color="white", line_color=None)
da.scatter(DELTA_K, DELTA_Y, size=7, fill_color="white", line_color="#333333", line_width=1)
T(page, 1098, 42, "Delta area", 15, style="bold")

# ---------- D
n_d = len(D_ROW_GRAIN)
hm = bare(1333, 43, 1594, 397, (0, 370), (len(D_ROWS), 0))
csizes = CLUSTER_SIZES
ncols = [12, 20, 22]
col_edges = [0.0]
for s, n in zip(csizes, ncols):
    for _ in range(n):
        col_edges.append(col_edges[-1] + s / n)
NAVY, WHITE, FIRE = (43,43,140), (255,255,255), (200,50,40)
L, R_, TP, BT, CC = [], [], [], [], []
for j, row in enumerate(D_ROWS):
    parts = [row[:12], row[12:32], row[32:]]
    for g, shift in enumerate(D_ROW_GRAIN):
        txt = "".join(pt[shift % len(pt):] + pt[:shift % len(pt)] if g else pt for pt in parts)
        for i, ch in enumerate(txt):
            d = (int(ch) - 4) / 4
            L.append(col_edges[i]); R_.append(col_edges[i+1]); TP.append(j+g/n_d); BT.append(j+(g+1)/n_d)
            CC.append(lerp(WHITE, FIRE, d) if d >= 0 else lerp(WHITE, NAVY, -d))
hm.quad(left=L, right=R_, top=TP, bottom=BT, fill_color=CC, line_color=None)
db = bare(1333, 32, 1594, 40, (0, 370), (0, 1))
db.quad(left=[0, c1, c1+c2], right=[c1, c1+c2, c1+c2+c3], bottom=[0]*3, top=[1]*3, fill_color=[CL1, CL2, CL3], line_color=None)
page.quad(left=[1313], right=[1333], top=[43], bottom=[397], fill_color="#9C9C9C", line_color=None)
xs, ys = [], []
for d, y1, y2, d1, d2 in D_TREE:
    xs.append([1240+d1/3, 1240+d/3, 1240+d/3, 1240+d2/3]); ys.append([y1/3, y1/3, y2/3, y2/3])
page.multi_line(xs, ys, line_color="#777777", line_width=.9)
page.segment([1240+205/3]*len(D_TWIGS), [y/3 for y in D_TWIGS], [1313]*len(D_TWIGS), [y/3 for y in D_TWIGS], line_color="#555555", line_width=.7)
for k in range(0, 64):
    t = k / 63
    col = lerp(WHITE, FIRE, 1-2*t) if t < .5 else lerp(WHITE, NAVY, 2*t-1)
    y0 = 43.3 + (172.7-43.3) * k / 64
    page.quad(left=[1598.7], right=[1606.7], top=[y0], bottom=[y0+2.6], fill_color=col, line_color=None)
for y, s in zip([43.3,76,108.5,141.5,172.7], ["2","1","0","-1","-2"]):
    T(page, 1612.5, y, s, 8, color="#333333")
T(page, 1610, 36, "Cluster", 8, style="bold", color="#111111")
T(page, 1632.7, 46, "Cluster", 8, style="bold", color="#111111")
for y0, y1, col, s in [(52.3,63.3,CL1,"C1"),(63.3,74,CL2,"C2"),(74,85,CL3,"C3")]:
    page.quad(left=[1620], right=[1630.7], top=[y0], bottom=[y1], fill_color=col, line_color=None)
    T(page, 1637.7, (y0+y1)/2, s, 8)

# ---------- E
km = panel(1265, 473.3, 1638.3, 811, (-.5, 10.48), (-.048, 1.0487), pb=8)
km.outline_line_color = "#BBBBBB"; km.outline_line_width = 1.5
axis(km.xaxis, RISK_TICKS, [""]*5, size=1, tick_out=3, standoff=0)
axis(km.yaxis, [0,.25,.5,.75,1], ["0.00","0.25","0.50","0.75","1.00"], size=12, color="#777777", orient="horizontal", tick_out=3)
ax_title(km.yaxis, "Overall survival probability", 13, 8)
def stepS(T_, S_, t):
    v = S_[0]
    for a, b in zip(T_, S_):
        if a <= t:
            v = b
    return v
for ci_u, ci_l, col in [(KM1_UP,KM1_LO,RED),(KM2_UP,KM2_LO,BLUE),(KM3_UP,KM3_LO,ORANGE)]:
    for ci in (ci_u, ci_l):
        km.step([a for a, _ in ci], [b for _, b in ci], mode="after", line_color=col, line_dash="4 5", line_width=1.2, line_alpha=.75)
MED_TIMES = [2.07, 4.62, 6.97]
km.line([0, 6.97], [.5, .5], line_color="#111111", line_dash="4 4", line_width=1.6)
km.segment(MED_TIMES, [0]*3, MED_TIMES, [.5]*3, line_color="#111111", line_dash="4 4", line_width=1.6)
for t_, s_, cen, col in [(KM2_T,KM2_S,KM2_CENS,BLUE),(KM1_T,KM1_S,KM1_CENS,RED),(KM3_T,KM3_S,KM3_CENS,ORANGE)]:
    km.step(t_, s_, mode="after", line_color=col, line_width=2.2)
    km.scatter(cen, [stepS(t_, s_, c) for c in cen], marker="cross", size=6, line_color=col, line_width=1)
T(km, 1.02, .2, "p < 0.0001", 17, align="left", color="#222222")
T(km, -.01, .012, "Median time:2,4.4 and 6.7", 12.5, align="left", color="#C8303C")
for y, col, s in [(503,RED,"groups=C1"),(522.3,BLUE,"groups=C2"),(540.7,ORANGE,"groups=C3")]:
    page.segment([1564], [y], [1578], [y], line_color=col, line_width=2)
    page.scatter([1571], [y], marker="cross", size=6, line_color=col)
    T(page, 1585, y, s, 11.5, align="left", color="#444444")
rk = panel(1265, 815, 1638.3, 876.7, (-.5, 10.48), (3.55, .4), pb=40)
rk.outline_line_color = "#BBBBBB"; rk.outline_line_width = 1.5
axis(rk.xaxis, RISK_TICKS, ["0","2.5","5","7.5","10"], size=11.5, color="#777777", tick_out=3)
axis(rk.yaxis, [1,2,3], ["groups=C1","groups=C2","groups=C3"], size=11, color="#777777", orient="horizontal", tick_out=3)
ax_title(rk.xaxis, "Time (years)", 13.5, 2)
for row, vals in zip([1,2,3], [RISK_C1,RISK_C2,RISK_C3]):
    rk.text(RISK_TICKS, [row]*5, text=[str(v) for v in vals], text_font=value(SERIF), text_font_size="14px", text_color="#222222",
            text_align="center", text_baseline="middle")

# ---------- F
f = panel(72.3, 1022.9, 959.7, 1397.9, (.404, 6.592), (-.087, 1.935), pb=150)
f.outline_line_color = "#AAAAAA"; f.outline_line_width = 2
axis(f.xaxis, [1,2,3,4,5,6], F_CATS, size=18, color="#222222", orient=math.radians(45), style="italic", tick_out=4, standoff=6)
axis(f.yaxis, [0,.5,1,1.5], ["0.0","0.5","1.0","1.5"], size=15, color="#777777", orient="horizontal", tick_out=3)
ax_title(f.yaxis, "TIMER Score", 14, 12)
F_VALUES = [[F_B_G1,F_B_G2,F_B_G3],[F_4_G1,F_4_G2,F_4_G3],[F_8_G1,F_8_G2,F_8_G3],[F_N_G1,F_N_G2,F_N_G3],[F_M_G1,F_M_G2,F_M_G3],[F_D_G1,F_D_G2,F_D_G3]]
for i, trio in enumerate(F_VALUES):
    cs = [i+1-.255, i+1, i+1+.255]
    bxs = [F_BOX_G1[i],F_BOX_G2[i],F_BOX_G3[i]]
    box_plot(f, cs, bxs, .1, .07, 1)
    for c, vals, col, b in zip(cs, trio, GCOL, bxs):
        strip(f, c, vals, .01, .1, col, 7.5, dense_below=b[4], layers=2)
    T(f, i+1, 1.85, F_STARS[i], 30, color="#808080")
group_legend(1013.7, 1158.6, 1007, 1043, [1191.8,1223.6,1255], size=15)

# ---------- H
h = panel(58.2, 1613.9, 959.7, 2040.6, (.4, 8.593), (-.423, 8.78), pb=100, pt=4)
h.outline_line_color = None
axis(h.xaxis, list(range(1,9)), H_CATS, size=18, color="#222222", orient=math.radians(45), style="italic", line="#333333", lw=2, tick_out=4, standoff=6)
axis(h.yaxis, [0,2,4,6,8], size=15, color="#777777", orient="horizontal", line="#333333", lw=2, tick_out=3)
ax_title(h.yaxis, "Immune checkpoint", 14, 8)
H_VALUES = [[H_1_G1,H_1_G2,H_1_G3],[H_2_G1,H_2_G2,H_2_G3],[H_3_G1,H_3_G2,H_3_G3],[H_4_G1,H_4_G2,H_4_G3],[H_5_G1,H_5_G2,H_5_G3],[H_6_G1,H_6_G2,H_6_G3],[H_7_G1,H_7_G2,H_7_G3],[H_8_G1,H_8_G2,H_8_G3]]
for i, trio in enumerate(H_VALUES):
    cs = [i+1-.267, i+1, i+1+.267]
    bxs = [H_BOX_G1[i],H_BOX_G2[i],H_BOX_G3[i]]
    box_plot(h, cs, bxs, .1, .07, 1)
    for c, vals, col, b in zip(cs, trio, GCOL, bxs):
        strip(h, c, vals, .1, .11, col, 7.5, dense_below=b[2], layers=3)
    T(h, i+1, 8.4, "***", 30, color="#808080")
group_legend(1013.7, 1775, 1007, 1043, [1808,1840,1871.6], size=15)

# ---------- G and I
def brackets(p, spec, size, color="#777777"):
    for a, b, y, tip, lab, ly in spec:
        p.multi_line([[a, a, b, b]], [[tip, y, y, tip]], line_color=color, line_width=1.3)
        T(p, (a+b)/2, ly, lab, size, color="#555555")

g = panel(1186.6, 1008.3, 1569, 1440.7, (.404, 3.592), (-.0656, 1.352), pb=30, pt=4)
g.outline_line_color = None
axis(g.xaxis, [1,2,3], GROUPS, size=15, color="#333333", line="#333333", lw=2, tick_out=3, standoff=3)
axis(g.yaxis, [0,.5,1], ["0.0","0.5","1.0"], size=12, color="#999999", orient="horizontal", line="#333333", lw=2, tick_out=3)
ax_title(g.yaxis, "mRNAsi score", 13, 5)
box_plot(g, [1,2,3], G_BOX, .25, .2, 1.4, .85)
for c, vals, col in zip([1,2,3], [G_G1,G_G2,G_G3], GCOL):
    strip(g, c, vals, .01, .21, col, 4.5)
brackets(g, G_BRACKETS, 13)
T(page, 1187.3, 993.3, "Kruskal-Wallis test p=2.5e-05", 16.5, align="left", color="#333333")
group_legend(1606, 1191, 1598.6, 1623, [1214.3,1234,1253.7], size=14, w=16, h=11)

it = panel(1171, 1633.3, 1640, 1737.7, (.4, 3.6), (-.583, 1.592), pb=6)
it.outline_line_color = "#CCCCCC"; it.outline_line_width = 1.5
axis(it.xaxis, [1,2,3], ["","",""], size=1, tick_out=2, standoff=0)
axis(it.yaxis, [0,1], ["False","True"], size=7.5, color="#888888", orient="horizontal", tick_out=2)
ax_title(it.yaxis, "Responder", 9.5, 3, style="italic")
it.text([1,2,3], [1]*3, text=[str(v) for v in I_TRUE], text_font=value(SERIF), text_font_size="10.5px", text_color="#333333", text_align="center", text_baseline="middle")
it.text([1,2,3], [0]*3, text=[str(v) for v in I_FALSE], text_font=value(SERIF), text_font_size="10.5px", text_color="#333333", text_align="center", text_baseline="middle")

ip = panel(1171, 1766.7, 1640, 2084.3, (.4, 3.6), (-2.14, 3.465), pb=24, pt=4)
ip.outline_line_color = None
axis(ip.xaxis, [1,2,3], GROUPS, size=12, color="#333333", line="#444444", lw=2, tick_out=2, standoff=2)
axis(ip.yaxis, [-2,-1,0,1,2,3], size=8, color="#999999", orient="horizontal", line="#444444", lw=2, tick_out=2)
ax_title(ip.yaxis, "TIDE score", 10.5, 6)
box_plot(ip, [1,2,3], I_BOX, .249, .194, 1.2, .85)
for c, vals, col in zip([1,2,3], [I_G1,I_G2,I_G3], GCOL):
    strip(ip, c, vals, .01, .2, col, 4)
brackets(ip, I_BRACKETS, 10)
T(page, 1171.8, 1755, "Kruskal-Wallis test p=1.4e-09", 13.5, align="left", color="#333333")
T(page, 1346, 2121, "Groups", 11, color="#444444")
for kx, lx, name, col in zip([1376,1415,1453.5], [1394.5,1433.7,1472.6], GROUPS, GCOL):
    group_key(kx, 2121, col, 12, 10)
    T(page, lx, 2121, name, 11, color="#444444")

root = column(page, cm, bar, dt, dl, cdf, da, hm, db, km, rk, f, h, g, it, ip, width=1716, height=2141, styles={"margin-left": f"-{ROOT_DX}px", "margin-top": f"-{ROOT_DY}px"})
open("out.html", "w").write(file_html(root, INLINE))
